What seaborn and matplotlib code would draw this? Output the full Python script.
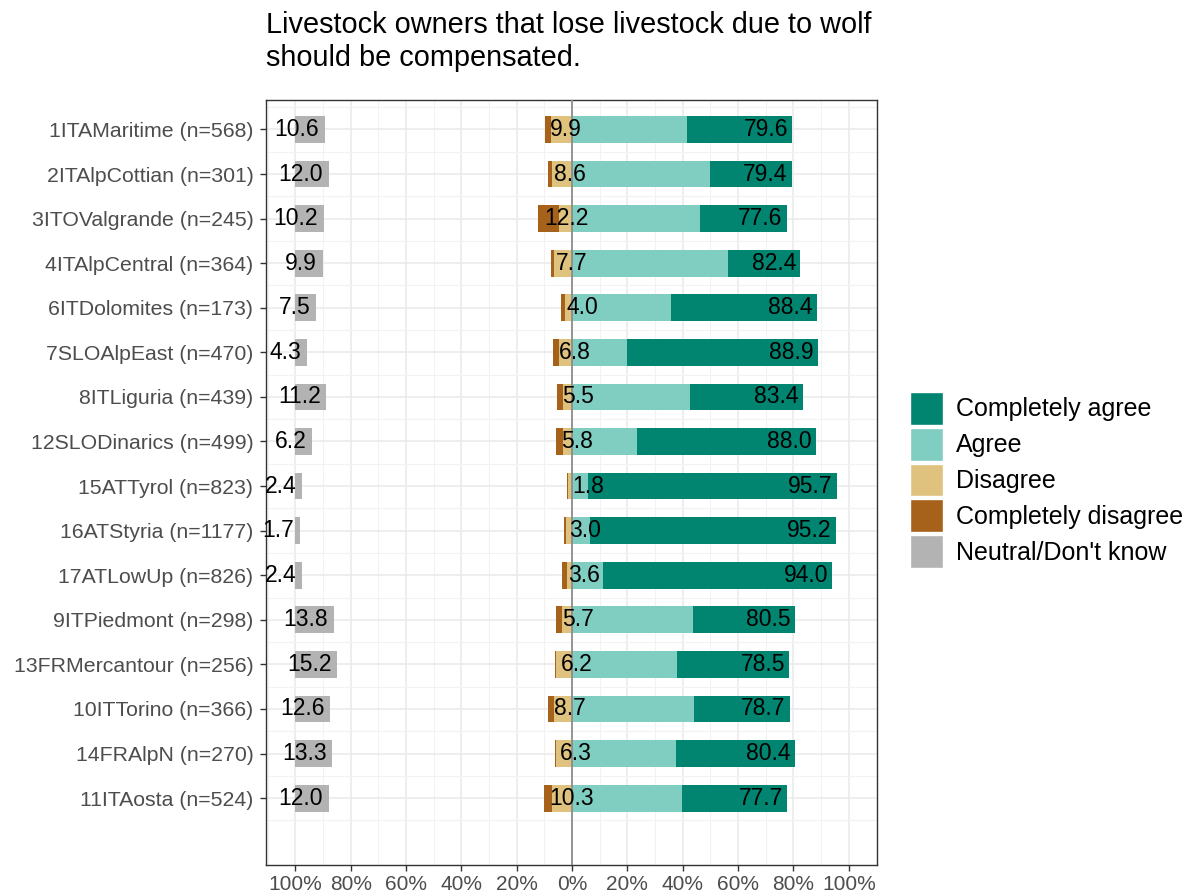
import numpy as np
import pandas as pd
import matplotlib
matplotlib.use("Agg")
import matplotlib.pyplot as plt
from matplotlib.patches import Patch
import seaborn as sns

# ---------------- data ----------------
regions = ["1ITAMaritime (n=568)", "2ITAlpCottian (n=301)", "3ITOValgrande (n=245)",
           "4ITAlpCentral (n=364)", "6ITDolomites (n=173)", "7SLOAlpEast (n=470)",
           "8ITLiguria (n=439)", "12SLODinarics (n=499)", "15ATTyrol (n=823)",
           "16ATStyria (n=1177)", "17ATLowUp (n=826)", "9ITPiedmont (n=298)",
           "13FRMercantour (n=256)", "10ITTorino (n=366)", "14FRAlpN (n=270)",
           "11ITAosta (n=524)"]
completely_disagree = [2.2, 1.2, 7.5, 1.3, 1.5, 1.9, 2.2, 2.4, 0.3, 0.9, 1.9, 2.0, 0.4, 2.3, 0.5, 3.2]
disagree            = [7.7, 7.4, 4.7, 6.4, 2.5, 4.9, 3.3, 3.4, 1.5, 2.1, 1.7, 3.7, 5.8, 6.4, 5.8, 7.1]
agree               = [41.5, 49.7, 46.2, 56.3, 35.9, 20.0, 42.5, 23.6, 5.9, 6.3, 11.0, 43.6, 37.9, 43.9, 37.4, 39.6]
completely_agree    = [38.1, 29.7, 31.4, 26.1, 52.5, 68.9, 40.9, 64.4, 89.8, 88.9, 83.0, 36.9, 40.6, 34.8, 43.0, 38.1]
neutral             = [10.6, 12.0, 10.2, 9.9, 7.5, 4.3, 11.2, 6.2, 2.4, 1.7, 2.4, 13.8, 15.2, 12.6, 13.3, 12.0]

legend_labels = ["Completely agree", "Agree", "Disagree", "Completely disagree", "Neutral/Don't know"]
colors = {"Completely agree": "#018571", "Agree": "#80CDC1", "Disagree": "#DFC27D",
          "Completely disagree": "#A6611A", "Neutral/Don't know": "#B3B3B3"}
tick_values = [-100, -80, -60, -40, -20, 0, 20, 40, 60, 80, 100]
tick_labels = ["100%", "80%", "60%", "40%", "20%", "0%", "20%", "40%", "60%", "80%", "100%"]
title = "Livestock owners that lose livestock due to wolf\nshould be compensated."

df = pd.DataFrame({"region": regions, "cd": completely_disagree, "d": disagree,
                   "a": agree, "ca": completely_agree, "neutral": neutral})
df["low"] = df["cd"] + df["d"]
df["high"] = df["a"] + df["ca"]

# ---------------- style ----------------
sns.set_theme(style="white")
plt.rcParams["font.family"] = ["Liberation Sans", "DejaVu Sans"]

fig = plt.figure(figsize=(11.94, 8.94), dpi=100)
ax = fig.add_axes([266 / 1194, 1 - 865 / 894, (876.5 - 266) / 1194, (865 - 100) / 894])

bw = 0.6
common = dict(orient="h", order=regions, width=bw, saturation=1, errorbar=None,
              linewidth=0, ax=ax)
sns.barplot(x=-df["low"], y=df["region"], color=colors["Completely disagree"], **common)
sns.barplot(x=-df["d"], y=df["region"], color=colors["Disagree"], **common)
sns.barplot(x=df["high"], y=df["region"], color=colors["Completely agree"], **common)
sns.barplot(x=df["a"], y=df["region"], color=colors["Agree"], **common)
ypos = np.arange(len(regions))
ax.barh(ypos, df["neutral"], left=-100, height=bw, color=colors["Neutral/Don't know"], linewidth=0)

ax.axvline(0, color="#8C8C8C", lw=1.3, zorder=3)

# value labels
lab_kw = dict(textcoords="offset points", va="center", fontsize=16.5, color="black", zorder=5)
for i, r in df.iterrows():
    ax.annotate(f"{r['high']:.1f}", (r["high"], i), xytext=(-3, 0), ha="right", **lab_kw)
    ax.annotate(f"{r['low']:.1f}", (-r["low"], i), xytext=(4, 0), ha="left", **lab_kw)
    ax.annotate(f"{r['neutral']:.1f}", (-100 + r["neutral"], i), xytext=(-4, 0), ha="right", **lab_kw)

# axes
ax.set_xlim(-110.6, 110)
ax.set_ylim(len(regions) - 1 + 1.07, -0.66)
ax.set_xticks(tick_values)
ax.set_xticklabels(tick_labels)
ax.set_xticks(np.arange(-110, 111, 20), minor=True)
ax.set_yticks(ypos)
ax.set_yticklabels(regions)
ax.set_yticks(np.arange(-0.5, len(regions) + 0.6, 1), minor=True)
ax.set_xlabel("")
ax.set_ylabel("")
ax.set_axisbelow(True)
ax.grid(which="major", color="#EBEBEB", lw=1.2)
ax.grid(which="minor", color="#F2F2F2", lw=0.8)
ax.tick_params(axis="y", which="major", length=4, width=1, color="#333333",
               labelsize=15.3, labelcolor="#4D4D4D", pad=5, left=True)
ax.tick_params(axis="x", which="major", length=4, width=1, color="#333333",
               labelsize=15, labelcolor="#4D4D4D", pad=3, bottom=True)
ax.tick_params(which="minor", length=0)
for s in ax.spines.values():
    s.set_visible(True)
    s.set_color("#333333")
    s.set_linewidth(1.0)

fig.text(266 / 1194, 1 - 11 / 894, title, ha="left", va="top", fontsize=20.8,
         color="black", linespacing=1.25)

handles = [Patch(facecolor=colors[l], edgecolor="white", linewidth=1) for l in legend_labels]
fig.legend(handles, legend_labels, loc="center left",
           bbox_to_anchor=(910 / 1194, 1 - 480 / 894), frameon=False, fontsize=18,
           labelcolor="black",
           handlelength=1.32, handleheight=1.65, labelspacing=0.12, handletextpad=0.5,
           borderpad=0, borderaxespad=0)

fig.savefig("out.png", dpi=100)
